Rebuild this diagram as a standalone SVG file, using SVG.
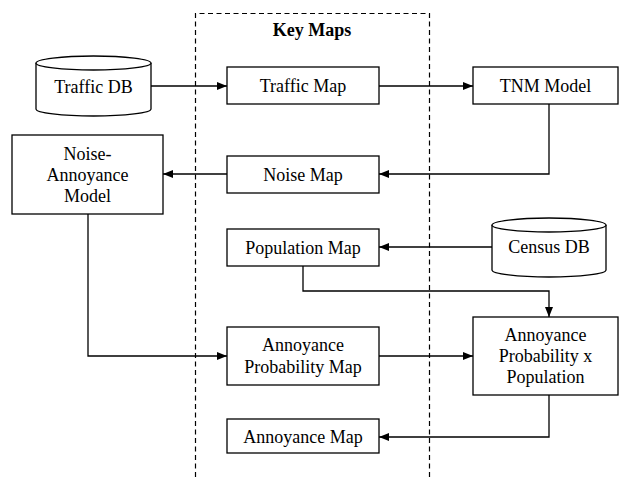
<svg xmlns="http://www.w3.org/2000/svg" width="619" height="477" viewBox="0 0 619 477">
<defs>
<marker id="arr" markerWidth="10" markerHeight="8" refX="10" refY="4" orient="auto" markerUnits="userSpaceOnUse">
<path d="M0,0 L10,4 L0,8 Z" fill="#000"/>
</marker>
<style>
.box{fill:#fff;stroke:#000;stroke-width:1.3}
.t{font-family:"Liberation Serif","Times New Roman",serif;font-size:18px;fill:#000;text-anchor:middle;dominant-baseline:central}
.b{font-weight:bold}
.c{fill:none;stroke:#000;stroke-width:1.3;marker-end:url(#arr)}
.dash{fill:none;stroke:#000;stroke-width:1.2;stroke-dasharray:5,3.5}
</style>
</defs>
<rect width="619" height="477" fill="#fff"/>
<g id="keymaps">
<path class="dash" d="M195.5,477 L195.5,13.5 L429.5,13.5 L429.5,477"/>
<text class="t b" x="312" y="30">Key Maps</text>
</g>
<g id="connectors">
<path class="c" d="M151,86 L227,86"/>
<path class="c" d="M379,86 L473,86"/>
<path class="c" d="M549,104 L549,174 L379,174"/>
<path class="c" d="M227,174 L163,174"/>
<path class="c" d="M492,247 L379,247"/>
<path class="c" d="M303,266 L303,291 L549,291 L549,317"/>
<path class="c" d="M88,214 L88,356 L227,356"/>
<path class="c" d="M379,356 L473,356"/>
<path class="c" d="M549,395 L549,437 L379,437"/>
</g>
<g id="trafficdb">
<path class="box" d="M36,63 L36,109 A57.5,7 0 0 0 151,109 L151,63"/>
<ellipse class="box" cx="93.5" cy="63" rx="57.5" ry="7"/>
<text class="t" x="93.5" y="87">Traffic DB</text>
</g>
<g id="trafficmap">
<rect class="box" x="227" y="67" width="152" height="37"/>
<text class="t" x="303" y="86">Traffic Map</text>
</g>
<g id="tnm">
<rect class="box" x="473" y="67" width="145" height="37"/>
<text class="t" x="545.5" y="86">TNM Model</text>
</g>
<g id="noiseannoyance">
<rect class="box" x="12" y="135" width="151" height="79"/>
<text class="t" x="87.5" y="154">Noise-</text>
<text class="t" x="87.5" y="175">Annoyance</text>
<text class="t" x="87.5" y="196">Model</text>
</g>
<g id="noisemap">
<rect class="box" x="227" y="156" width="152" height="37"/>
<text class="t" x="303" y="175">Noise Map</text>
</g>
<g id="censusdb">
<path class="box" d="M492,225 L492,270 A57,7 0 0 0 606,270 L606,225"/>
<ellipse class="box" cx="549" cy="225" rx="57" ry="7"/>
<text class="t" x="549" y="247">Census DB</text>
</g>
<g id="populationmap">
<rect class="box" x="227" y="229" width="152" height="37"/>
<text class="t" x="303" y="248">Population Map</text>
</g>
<g id="annprobmap">
<rect class="box" x="227" y="327" width="152" height="58"/>
<text class="t" x="303" y="345">Annoyance</text>
<text class="t" x="303" y="367">Probability Map</text>
</g>
<g id="annprobpop">
<rect class="box" x="473" y="317" width="145" height="78"/>
<text class="t" x="545.5" y="335">Annoyance</text>
<text class="t" x="545.5" y="356">Probability x</text>
<text class="t" x="545.5" y="377">Population</text>
</g>
<g id="annoyancemap">
<rect class="box" x="227" y="419" width="152" height="34"/>
<text class="t" x="303" y="437">Annoyance Map</text>
</g>
</svg>
